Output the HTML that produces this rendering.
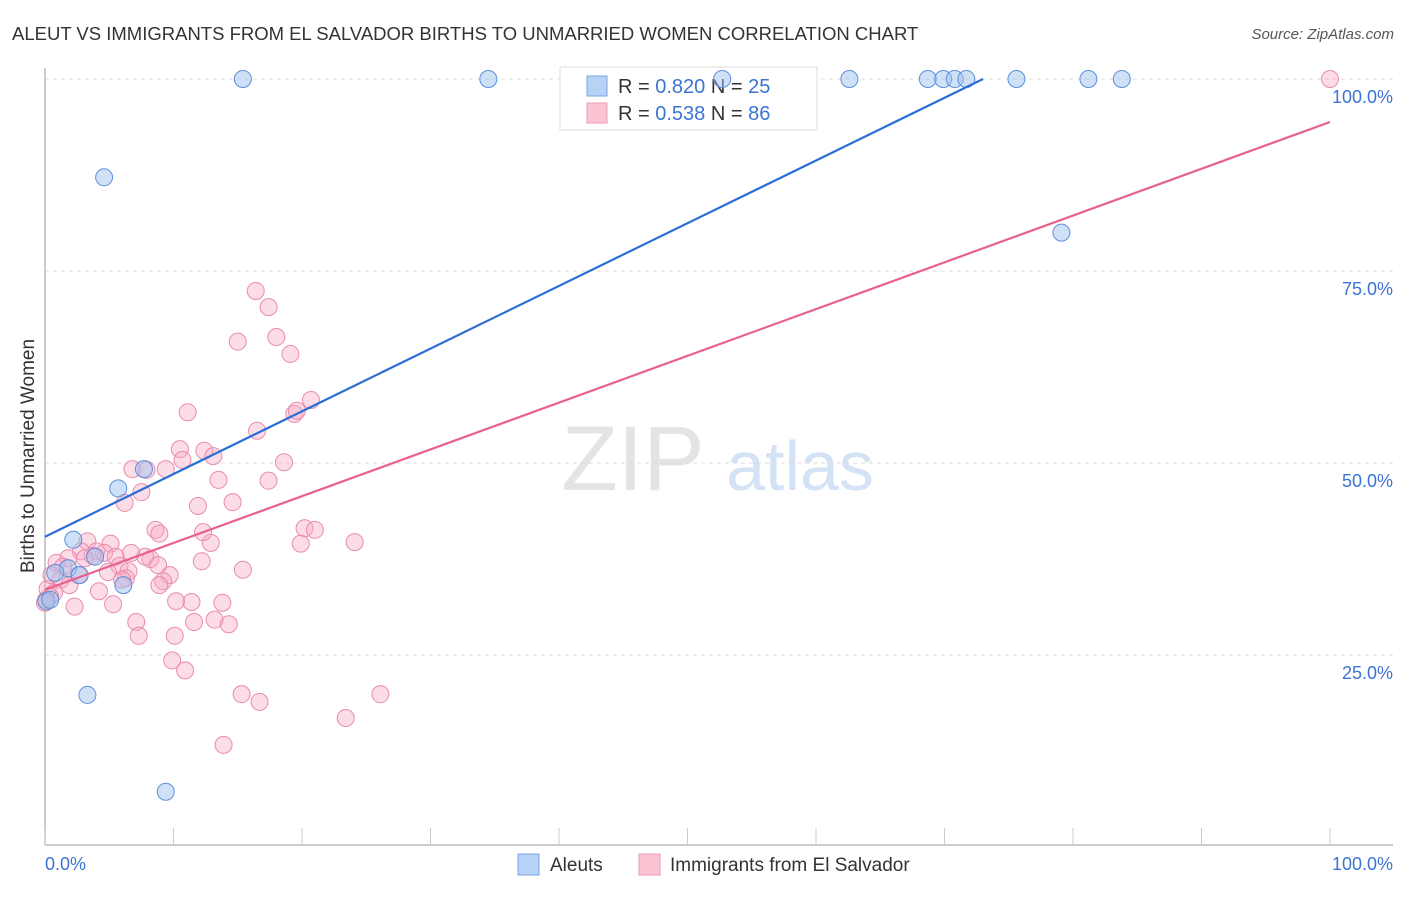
<!DOCTYPE html>
<html><head><meta charset="utf-8"><style>
body{margin:0;background:#fff;font-family:"Liberation Sans",sans-serif}
svg text{font-family:"Liberation Sans",sans-serif}
</style></head><body>
<svg id="c" width="1406" height="892">
<text x="12" y="40" font-size="18.5" fill="#333">ALEUT VS IMMIGRANTS FROM EL SALVADOR BIRTHS TO UNMARRIED WOMEN CORRELATION CHART</text>
<text x="1394" y="39" font-size="15" fill="#555" text-anchor="end" font-style="italic">Source: ZipAtlas.com</text>
<text x="633" y="490" font-size="92" fill="#e4e4e4" text-anchor="middle" font-family="Liberation Serif">ZIP</text>
<text x="800" y="490" font-size="70" fill="#d4e2f5" text-anchor="middle">atlas</text>
<text transform="translate(34,456) rotate(-90)" font-size="19" fill="#333" text-anchor="middle">Births to Unmarried Women</text>
<g id="grid"></g>
<g>
<rect x="560" y="67" width="257" height="63" fill="#fff" stroke="#ddd"/>
<rect x="587" y="76" width="20" height="20" fill="#b7d2f5" stroke="#7aa6e4"/>
<rect x="587" y="103" width="20" height="20" fill="#fac4d3" stroke="#ec9ab4"/>
<text x="618" y="93" font-size="20" fill="#333">R = <tspan fill="#3b74d4">0.820</tspan>   N = <tspan fill="#3b74d4">25</tspan></text>
<text x="618" y="120" font-size="20" fill="#333">R = <tspan fill="#3b74d4">0.538</tspan>   N = <tspan fill="#3b74d4">86</tspan></text>
</g>
<g id="pts"></g><g id="lines"></g>
<g>
<rect x="518" y="854" width="21" height="21" fill="#b7d2f5" stroke="#7aa6e4"/>
<text x="550" y="871" font-size="19" fill="#333">Aleuts</text>
<rect x="639" y="854" width="21" height="21" fill="#fac4d3" stroke="#ec9ab4"/>
<text x="670" y="871" font-size="19" fill="#333">Immigrants from El Salvador</text>
</g>
</svg>
<script>
const xTicks=[0,10,20,30,40,50,60,70,80,90,100];
const yTicks=[25,50,75,100];
const yTickLabels=["25.0%","50.0%","75.0%","100.0%"];
const xLabels=["0.0%","100.0%"];
const aleutX=[15.4,34.5,52.7,62.6,68.7,69.9,70.8,71.7,75.6,81.2,83.8,4.6,79.1,7.7,5.7,2.2,3.9,1.8,0.8,2.7,6.1,0.1,3.3,9.4,0.4];
const aleutY=[100,100,100,100,100,100,100,100,100,100,100,87.2,80,49.2,46.7,40,37.8,36.3,35.7,35.4,34.1,32,19.8,7.2,32.2];
const salvX=[16.4,17.4,15.0,18.0,19.1,20.7,11.1,19.4,19.6,16.5,10.5,12.4,10.7,13.1,18.6,6.8,9.4,13.5,17.4,7.5,14.6,6.2,11.9,8.6,8.9,20.2,21.0,19.9,24.1,12.9,3.3,5.1,2.8,4.0,4.6,5.5,1.8,3.7,8.2,7.8,12.2,15.4,0.9,1.4,5.8,6.5,9.7,6.3,2.6,9.2,6.0,1.2,4.2,0.2,0.7,8.9,10.2,11.4,5.3,2.3,13.8,7.1,11.6,13.2,14.3,7.3,10.1,9.9,10.9,15.3,16.7,26.1,23.4,13.9,100,0.4,0,0.5,3.1,4.9,7.9,0.1,1.9,6.7,12.3,8.8];
const salvY=[72.4,70.3,65.8,66.4,64.2,58.2,56.6,56.4,56.8,54.2,51.8,51.6,50.4,50.9,50.1,49.2,49.2,47.8,47.7,46.2,44.9,44.8,44.4,41.3,40.8,41.5,41.3,39.5,39.7,39.6,39.8,39.5,38.5,38.5,38.3,37.8,37.6,37.9,37.5,37.8,37.2,36.1,37.0,36.5,36.6,35.9,35.4,35.0,35.4,34.6,34.8,34.8,33.3,33.6,33.1,34.1,32.0,31.9,31.6,31.3,31.8,29.3,29.3,29.6,29.0,27.5,27.5,24.3,23.0,19.9,18.9,19.9,16.8,13.3,100,32.6,31.8,35.4,37.6,35.8,49.1,32.2,34.1,38.3,41.0,36.7];
const aleutTrendX=[0,73];const aleutTrendY=[40.4,100];
const salvTrendX=[0,100];const salvTrendY=[33.5,94.4];
const sx=v=>45+v*12.85, sy=v=>847-v*7.68;
const NS="http://www.w3.org/2000/svg";
function mk(tag,attrs,parent){const e=document.createElementNS(NS,tag);for(const k in attrs)e.setAttribute(k,attrs[k]);document.getElementById(parent).appendChild(e);return e;}
yTicks.forEach((t,i)=>{
 const l=mk('line',{x1:45,x2:1393,y1:sy(t),y2:sy(t),stroke:'#ddd','stroke-dasharray':'4,4'},'grid');
 
 
 const tx=mk('text',{x:1393,y:sy(t)+24,'font-size':18,fill:'#3b74d4','text-anchor':'end'},'grid');tx.textContent=yTickLabels[i];
 
 
});
const ax=mk('line',{x1:45,x2:1393,y1:845,y2:845,stroke:'#bbb','stroke-width':1.5},'grid');


const ay=mk('line',{x1:45,x2:45,y1:68,y2:845,stroke:'#bbb','stroke-width':1.5},'grid');


xTicks.forEach(t=>{const l=mk('line',{x1:sx(t),x2:sx(t),y1:828,y2:845,stroke:'#ccc'},'grid');
 
 });
[[0,'start',xLabels[0]],[100,'end',xLabels[1]]].forEach(([v,a,s])=>{const t=mk('text',{x:a=='start'?sx(v):1393,y:870,'font-size':18,fill:'#3b74d4','text-anchor':a},'grid');t.textContent=s;
 
 });
salvX.forEach((x,i)=>{const c=mk('circle',{cx:sx(x),cy:sy(salvY[i]),r:8.5,fill:'rgba(247,170,195,0.4)',stroke:'#e98cab','stroke-width':1},'pts');
 
 });
aleutX.forEach((x,i)=>{const c=mk('circle',{cx:sx(x),cy:sy(aleutY[i]),r:8.5,fill:'rgba(160,196,240,0.5)',stroke:'#5d8fdb','stroke-width':1},'pts');
 
 });
const l1=mk('line',{x1:sx(aleutTrendX[0]),y1:sy(aleutTrendY[0]),x2:sx(aleutTrendX[1]),y2:sy(aleutTrendY[1]),stroke:'#2a6fd6','stroke-width':2.2},'lines');


const l2=mk('line',{x1:sx(salvTrendX[0]),y1:sy(salvTrendY[0]),x2:sx(salvTrendX[1]),y2:sy(salvTrendY[1]),stroke:'#e8618d','stroke-width':2.2},'lines');


</script>
</body></html>
